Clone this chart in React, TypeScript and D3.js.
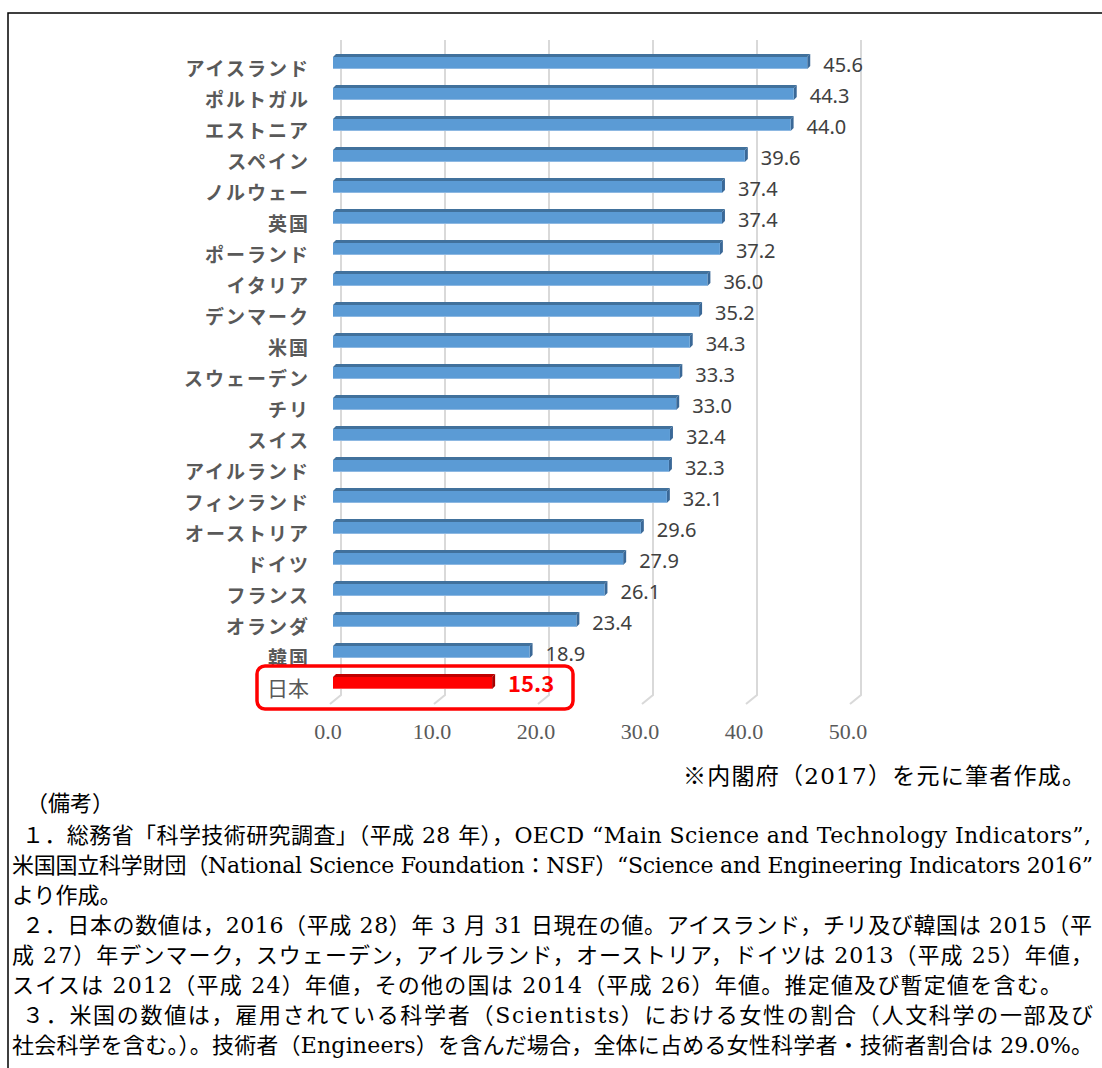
import React from 'react';
import * as d3 from 'd3';

// 女性研究者割合（%）
const countries = [
  'アイスランド', 'ポルトガル', 'エストニア', 'スペイン', 'ノルウェー', '英国', 'ポーランド',
  'イタリア', 'デンマーク', '米国', 'スウェーデン', 'チリ', 'スイス', 'アイルランド',
  'フィンランド', 'オーストリア', 'ドイツ', 'フランス', 'オランダ', '韓国', '日本',
];
const values = [
  45.6, 44.3, 44.0, 39.6, 37.4, 37.4, 37.2, 36.0, 35.2, 34.3, 33.3, 33.0, 32.4, 32.3,
  32.1, 29.6, 27.9, 26.1, 23.4, 18.9, 15.3,
];
const ticks = [0, 10, 20, 30, 40, 50];
const highlight = '日本';

const sourceNote = '※内閣府（2017）を元に筆者作成。';
const remarksTitle = '（備考）';
const remarks = [
  { text: '１．総務省「科学技術研究調査」（平成 28 年），OECD “Main Science and Technology Indicators”,', indent: true, end: 1091 },
  { text: '米国国立科学財団（National Science Foundation：NSF）“Science and Engineering Indicators 2016”', indent: false, end: 1093 },
  { text: 'より作成。', indent: false, end: 0 },
  { text: '２．日本の数値は，2016（平成 28）年 3 月 31 日現在の値。アイスランド，チリ及び韓国は 2015（平', indent: true, end: 1092 },
  { text: '成 27）年デンマーク，スウェーデン，アイルランド，オーストリア，ドイツは 2013（平成 25）年値，', indent: false, end: 1093 },
  { text: 'スイスは 2012（平成 24）年値，その他の国は 2014（平成 26）年値。推定値及び暫定値を含む。', indent: false, end: 1062 },
  { text: '３．米国の数値は，雇用されている科学者（Scientists）における女性の割合（人文科学の一部及び', indent: true, end: 1093 },
  { text: '社会科学を含む。）。技術者（Engineers）を含んだ場合，全体に占める女性科学者・技術者割合は 29.0%。', indent: false, end: 1093 },
];

const W = 1102;
const H = 1068;
const serif = '"Liberation Serif", "Times New Roman", "Noto Sans CJK JP", serif';
const noteFont = '"DejaVu Serif", "Liberation Serif", "Noto Sans CJK JP", serif';
const sans = '"Noto Sans CJK JP", "Noto Sans", sans-serif';

export default function App() {
  const x = d3.scaleLinear().domain([0, 50]).range([330, 850]);
  const y = d3.scaleBand<string>().domain(countries).range([47.5, 47.5 + countries.length * 31]);
  const cy = (c: string) => (y(c) ?? 0) + y.bandwidth() / 2;

  // 3D offsets: wall depth for gridlines, small depth for bars
  const wallDx = 11;
  const wallDy = 9;
  const barDepth = 3;
  const barHalf = 6;
  const gridTop = 40;
  const gridBottom = 695;

  const data = countries.map((c, i) => ({ country: c, value: values[i] }));
  const jp = cy(highlight);

  return (
    <svg width={W} height={H} style={{ position: 'absolute', left: 0, top: 0, display: 'block', background: '#fff' }}>
      {/* frame */}
      <path d={`M8,${H + 5}V13H${W + 5}`} fill="none" stroke="#000" strokeWidth={1.5} />

      {/* gridlines with floor slant */}
      {ticks.map((t) => (
        <path
          key={t}
          d={`M${x(t) + wallDx},${gridTop}V${gridBottom}L${x(t)},${gridBottom + wallDy}`}
          fill="none"
          stroke="#d9d9d9"
          strokeWidth={2}
        />
      ))}

      {/* bars */}
      {data.map((d) => {
        const c = cy(d.country);
        const x0 = x(0) + 3;
        const x1 = x(d.value) + 3;
        const hl = d.country === highlight;
        const front = hl ? '#ff0000' : '#5b9bd5';
        const top = hl ? '#c00000' : '#41719c';
        const side = hl ? '#a50000' : '#3a6897';
        return (
          <g key={d.country}>
            <polygon
              points={`${x0},${c - barHalf} ${x1},${c - barHalf} ${x1 + barDepth},${c - barHalf - barDepth} ${x0 + barDepth},${c - barHalf - barDepth}`}
              fill={top}
            />
            <polygon
              points={`${x1},${c - barHalf} ${x1 + barDepth},${c - barHalf - barDepth} ${x1 + barDepth},${c + barHalf - barDepth} ${x1},${c + barHalf}`}
              fill={side}
            />
            <rect x={x0} y={c - barHalf} width={x1 - x0} height={barHalf * 2} fill={front} />
            <line x1={x0} x2={x1} y1={c + barHalf - 0.5} y2={c + barHalf - 0.5} stroke={hl ? '#ff4d4d' : '#8db8e2'} strokeWidth={1} />
            <text
              x={x(d.value) + 19}
              y={c + 9}
              fontFamily={hl ? sans : '"Noto Sans", sans-serif'}
              fontSize={hl ? 22 : 20}
              fontWeight={hl ? 700 : 400}
              fill={hl ? '#ff0000' : '#404040'}
            >
              {d.value.toFixed(1)}
            </text>
            <text
              x={hl ? 309 : 310}
              y={c + 13}
              textAnchor="end"
              fontFamily={sans}
              fontSize={hl ? 21 : 19}
              fontWeight={hl ? 400 : 700}
              letterSpacing={hl ? 0 : 2}
              fill="#595959"
            >
              {d.country}
            </text>
          </g>
        );
      })}

      {/* highlight box */}
      <rect x={257} y={jp - 17} width={316} height={43} rx={8} ry={8} fill="none" stroke="#ff0000" strokeWidth={3.5} />

      {/* x tick labels */}
      {ticks.map((t) => (
        <text key={t} x={x(t) - 2} y={739} textAnchor="middle" fontFamily={serif} fontSize={22} fill="#595959">
          {t.toFixed(1)}
        </text>
      ))}

      {/* notes */}
      <text x={683} y={784} fontFamily={noteFont} fontSize={23} fill="#000" textLength={402} lengthAdjust="spacing">
        {sourceNote}
      </text>
      <text x={26} y={811} fontFamily={noteFont} fontSize={22} fill="#000">
        {remarksTitle}
      </text>
      {remarks.map((r, i) => {
        const x0 = r.indent ? 22 : 12;
        return (
          <text
            key={i}
            x={x0}
            y={843 + i * 30}
            fontFamily={noteFont}
            fontSize={22}
            fill="#000"
            {...(r.end ? { textLength: r.end - x0, lengthAdjust: 'spacing' } : {})}
          >
            {r.text}
          </text>
        );
      })}
    </svg>
  );
}
